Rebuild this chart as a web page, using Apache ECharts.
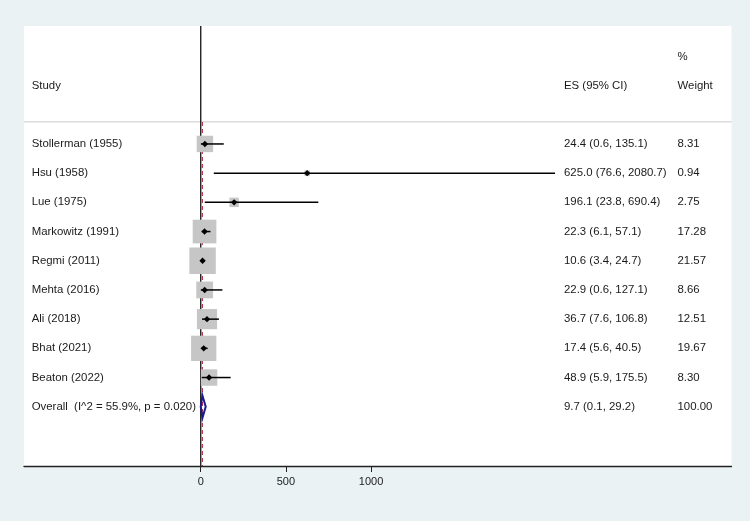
<!DOCTYPE html>
<html>
<head>
<meta charset="utf-8">
<script src="https://cdn.jsdelivr.net/npm/echarts@6/dist/echarts.min.js"></script>
<style>
  html, body { margin: 0; padding: 0; background: #eaf2f3; }
  #main { width: 750px; height: 521px; }
</style>
</head>
<body>
<div id="main"></div>
<script>
// studies, effect sizes, 95% CI and weights
var studies = ['Stollerman (1955)', 'Hsu (1958)', 'Lue (1975)', 'Markowitz (1991)', 'Regmi (2011)',
               'Mehta (2016)', 'Ali (2018)', 'Bhat (2021)', 'Beaton (2022)'];
var es     = [24.4, 625.0, 196.1, 22.3, 10.6, 22.9, 36.7, 17.4, 48.9];
var ciLow  = [0.6, 76.6, 23.8, 6.1, 3.4, 0.6, 7.6, 5.6, 5.9];
var ciHigh = [135.1, 2080.7, 690.4, 57.1, 24.7, 127.1, 106.8, 40.5, 175.5];
var weight = [8.31, 0.94, 2.75, 17.28, 21.57, 8.66, 12.51, 19.67, 8.30];

var overallLabel = 'Overall  (I^2 = 55.9%, p = 0.020)';
var overallEs = 9.7;
var overallCi = [0.1, 29.2];
var overallWeight = 100.00;

var xTicks = [0, 500, 1000];

var X_MIN = -1038, X_MAX = 3117;
var Y_MIN = -3.04, Y_MAX = 12.03;
var FONT = 'Liberation Sans, Arial, sans-serif';
var TXT = '#1a1a1a';

function fmtCi(e, l, h) {
  return e.toFixed(1) + ' (' + l.toFixed(1) + ', ' + h.toFixed(1) + ')';
}

// text columns, offsets from the grid's left edge
function textCols(api, row, label, esText, wText) {
  var left = api.coord([X_MIN, row]);
  var out = [];
  var base = { fill: TXT, font: '11.4px ' + FONT, textVerticalAlign: 'middle', textAlign: 'left' };
  if (label) out.push({ type: 'text', style: Object.assign({}, base, { x: left[0] + 7.7, y: left[1], text: label }) });
  if (esText) out.push({ type: 'text', style: Object.assign({}, base, { x: left[0] + 540, y: left[1], text: esText }) });
  if (wText) out.push({ type: 'text', style: Object.assign({}, base, { x: left[0] + 653.5, y: left[1], text: wText }) });
  return out;
}

var chart = echarts.init(document.getElementById('main'));

var option = {
  backgroundColor: '#eaf2f3',
  animation: false,
  grid: {
    left: 24, right: 18.5, top: 26, bottom: 55,
    show: true, backgroundColor: '#ffffff', borderWidth: 0
  },
  xAxis: {
    type: 'value',
    min: X_MIN, max: X_MAX,
    axisLine: { show: true, onZero: false, lineStyle: { color: '#222', width: 1.3 } },
    axisTick: { show: true, customValues: xTicks, length: 6, lineStyle: { color: '#222', width: 1 } },
    axisLabel: { customValues: xTicks, color: '#222', fontSize: 11, fontFamily: FONT, margin: 10,
                 formatter: function (v) { return String(v); } },
    splitLine: { show: false }
  },
  yAxis: {
    type: 'value', inverse: true,
    min: Y_MIN, max: Y_MAX,
    show: false
  },
  series: [
    {
      // header, separator, zero line, overall line
      type: 'custom',
      data: [0],
      silent: true,
      renderItem: function (params, api) {
        var ch = [];
        ch = ch.concat(textCols(api, -2, null, null, '%'));
        ch = ch.concat(textCols(api, -1, 'Study', 'ES (95% CI)', 'Weight'));
        var s0 = api.coord([X_MIN, 0.236]), s1 = api.coord([X_MAX, 0.236]);
        ch.push({ type: 'line', shape: { x1: s0[0], y1: s0[1], x2: s1[0], y2: s1[1] },
                  style: { stroke: '#dcdcdc', lineWidth: 1.5 } });
        var z0 = api.coord([0, Y_MIN]), z1 = api.coord([0, Y_MAX]);
        ch.push({ type: 'line', shape: { x1: z0[0], y1: z0[1], x2: z1[0], y2: z1[1] },
                  style: { stroke: '#111', lineWidth: 1.3 } });
        var o0 = api.coord([overallEs, 0.25]), o1 = api.coord([overallEs, Y_MAX]);
        ch.push({ type: 'line', shape: { x1: o0[0], y1: o0[1], x2: o1[0], y2: o1[1] },
                  style: { stroke: '#b23a4e', lineWidth: 1.2, lineDash: [4, 3] } });
        return { type: 'group', children: ch };
      }
    },
    {
      type: 'custom',
      data: studies.map(function (s, i) { return i; }),
      silent: true,
      renderItem: function (params, api) {
        var i = params.dataIndex;
        var row = i + 1;
        var c = api.coord([es[i], row]);
        var size = Math.sqrt(weight[i]) * 5.7;
        var l = api.coord([ciLow[i], row]), h = api.coord([ciHigh[i], row]);
        var d = 3.2;
        var ch = [
          { type: 'rect', shape: { x: c[0] - size / 2, y: c[1] - size / 2, width: size, height: size },
            style: { fill: '#c6c6c6' } },
          { type: 'line', shape: { x1: l[0], y1: l[1], x2: h[0], y2: h[1] },
            style: { stroke: '#000', lineWidth: 1.5 } },
          { type: 'polygon', shape: { points: [[c[0] - d, c[1]], [c[0], c[1] - d], [c[0] + d, c[1]], [c[0], c[1] + d]] },
            style: { fill: '#000' } }
        ];
        ch = ch.concat(textCols(api, row, studies[i], fmtCi(es[i], ciLow[i], ciHigh[i]), weight[i].toFixed(2)));
        return { type: 'group', children: ch };
      }
    },
    {
      type: 'custom',
      data: [0],
      silent: true,
      renderItem: function (params, api) {
        var row = studies.length + 1;
        var l = api.coord([overallCi[0], row]), r = api.coord([overallCi[1], row]);
        var t = api.coord([overallEs, row - 0.39]), b = api.coord([overallEs, row + 0.39]);
        var ch = [
          { type: 'polygon', shape: { points: [l, t, r, b] },
            style: { fill: 'none', stroke: '#1a1a8c', lineWidth: 2 } }
        ];
        ch = ch.concat(textCols(api, row, overallLabel, fmtCi(overallEs, overallCi[0], overallCi[1]), overallWeight.toFixed(2)));
        return { type: 'group', children: ch };
      }
    }
  ]
};

chart.setOption(option);
</script>
</body>
</html>
